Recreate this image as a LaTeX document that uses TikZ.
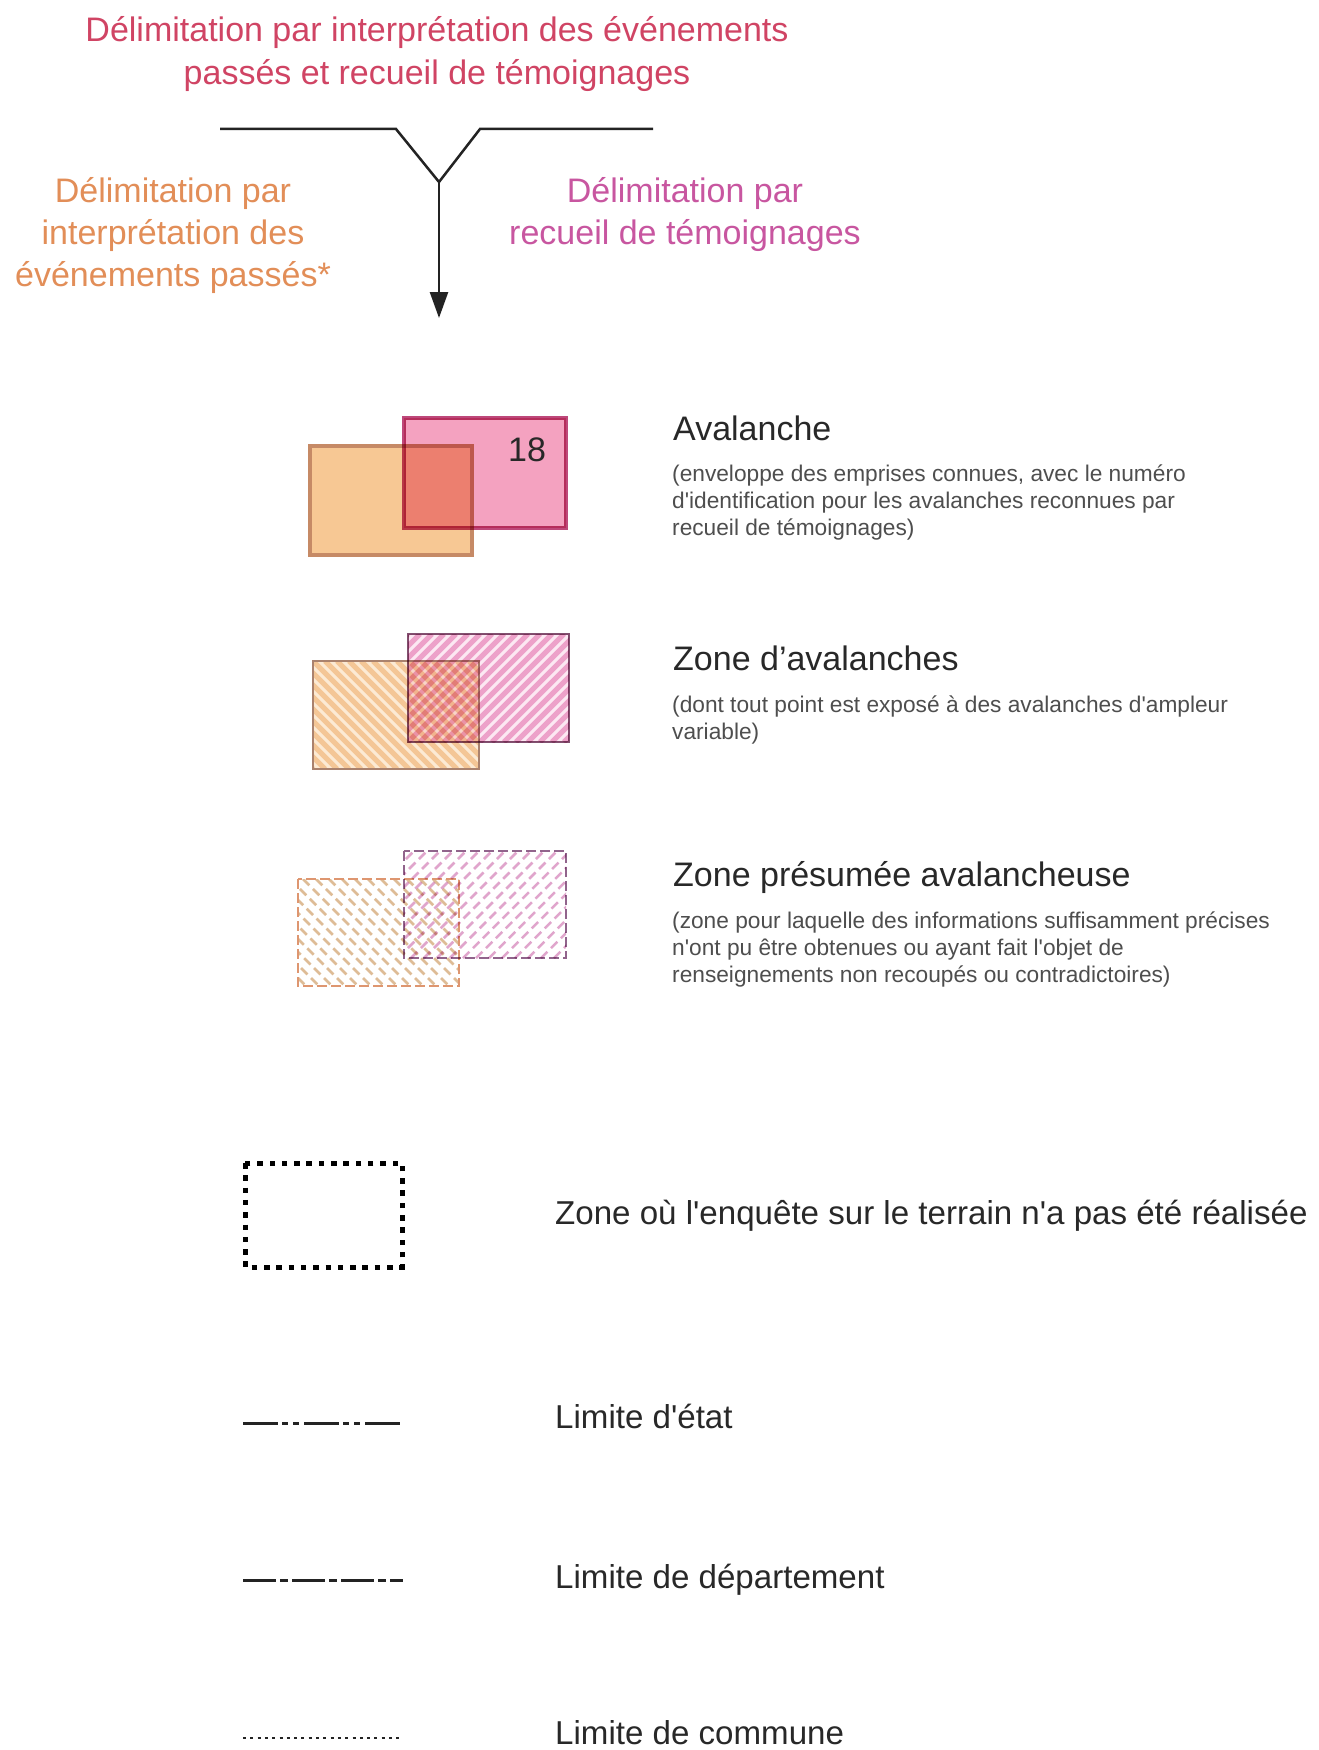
\documentclass[tikz,border=0pt]{standalone}
\usepackage{fontspec}
\setmainfont{Liberation Sans}
\usetikzlibrary{arrows.meta}

\definecolor{titlerose}{RGB}{208,68,100}
\definecolor{passorange}{RGB}{226,142,88}
\definecolor{temmagenta}{RGB}{200,86,160}
\definecolor{headgray}{RGB}{40,40,40}
\definecolor{descgray}{RGB}{78,78,78}
\definecolor{linegray}{RGB}{35,35,35}
% avalanche
\definecolor{avorfill}{RGB}{247,200,148}
\definecolor{avorline}{RGB}{198,138,102}
\definecolor{avpkfill}{RGB}{244,162,192}
\definecolor{avpkline}{RGB}{190,72,122}
% zone d'avalanches
\definecolor{zoorpale}{RGB}{252,234,212}
\definecolor{zoorband}{RGB}{244,198,150}
\definecolor{zoorline}{RGB}{170,130,110}
\definecolor{zopkpale}{RGB}{252,232,242}
\definecolor{zopkband}{RGB}{240,178,212}
\definecolor{zopkline}{RGB}{130,80,112}
% zone presumee
\definecolor{zporband}{RGB}{222,188,150}
\definecolor{zporline}{RGB}{222,150,112}
\definecolor{zppkband}{RGB}{224,165,204}
\definecolor{zppkline}{RGB}{145,100,140}

\newcommand{\ap}{\textquotesingle}

\begin{document}
\begin{tikzpicture}[x=1pt, y=-1pt, >=Stealth,
  bigtext/.style={font=\fontsize{34}{42}\selectfont, inner sep=0pt},
  headtext/.style={bigtext, text=headgray, anchor=base west},
  lowtext/.style={headtext, font=\fontsize{33.1}{40}\selectfont},
  desctext/.style={font=\fontsize{22.7}{27}\selectfont, inner sep=0pt, text=descgray, align=left, anchor=north west},
  connector/.style={draw=linegray, line width=2.5pt}]

  \useasboundingbox[fill=white] (0,0) rectangle (1319,1750);

  % Titles
  \node[bigtext, text=titlerose, align=center, font=\fontsize{34}{43}\selectfont] (title) at (437,54)
    {Délimitation par interprétation des événements\\passés et recueil de témoignages};
  \node[bigtext, text=passorange, align=center] (passes) at (173,236)
    {Délimitation par\\interprétation des\\événements passés*};
  \node[bigtext, text=temmagenta, align=center] (temoins) at (685,215)
    {Délimitation par\\recueil de témoignages};

  % Y connector
  \coordinate (yl) at (220,129);
  \coordinate (yml) at (396,129);
  \coordinate (yv) at (439,182);
  \coordinate (ymr) at (480,129);
  \coordinate (yr) at (653,129);
  \coordinate (yend) at (439,318);
  \draw[connector, line join=miter] (yl) -- (yml) -- (yv) -- (ymr) -- (yr);
  \draw[connector, -{Triangle[length=26pt, width=18pt]}] (yv) -- (yend);

  % Avalanche
  \filldraw[fill=avorfill, draw=avorline, line width=3.5pt] (310,446) rectangle (472,555);
  \begin{scope}[blend mode=multiply]
    \filldraw[fill=avpkfill, draw=avpkline, line width=3.5pt] (404,418) rectangle (566,528);
  \end{scope}
  \node[bigtext, text=headgray] (num) at (527,450) {18};
  \node[headtext] (avtitle) at (673,440) {Avalanche};
  \node[desctext] (avdesc) at (672,465)
    {(enveloppe des emprises connues, avec le numéro\\d\ap identification pour les avalanches reconnues par\\recueil de témoignages)};

  % Zone d'avalanches
  \begin{scope}
    \clip (313,661) rectangle (479,769);
    \fill[zoorpale] (313,661) rectangle (479,769);
    \foreach \s in {205,217,...,480}
      \draw[zoorband, line width=5pt] (\s,661) -- ++(108,108);
  \end{scope}
  \draw[zoorline, line width=2pt] (313,661) rectangle (479,769);
  \begin{scope}[blend mode=multiply]
    \begin{scope}
      \clip (408,634) rectangle (569,742);
      \fill[zopkpale] (408,634) rectangle (569,742);
      \foreach \s in {300,312,...,570}
        \draw[zopkband, line width=5pt] (\s,742) -- ++(108,-108);
    \end{scope}
    \draw[zopkline, line width=2pt] (408,634) rectangle (569,742);
  \end{scope}
  \node[headtext] (zotitle) at (673,670) {Zone d’avalanches};
  \node[desctext] (zodesc) at (672,696)
    {(dont tout point est exposé à des avalanches d\ap ampleur\\variable)};

  % Zone presumee avalancheuse
  \begin{scope}
    \clip (298,879) rectangle (459,986);
    \foreach \s in {186,199,...,460}
      \draw[zporband, line width=2.5pt, dash pattern=on 9pt off 5pt] (\s,879) -- ++(107,107);
  \end{scope}
  \draw[zporline, line width=2.5pt, dash pattern=on 10pt off 4pt] (298,879) rectangle (459,986);
  \begin{scope}[blend mode=multiply]
    \begin{scope}
      \clip (404,851) rectangle (566,958);
      \foreach \s in {294,307,...,567}
        \draw[zppkband, line width=2.5pt, dash pattern=on 9pt off 5pt] (\s,958) -- ++(107,-107);
    \end{scope}
    \draw[zppkline, line width=2.5pt, dash pattern=on 10pt off 4pt] (404,851) rectangle (566,958);
  \end{scope}
  \node[headtext] (zptitle) at (673,886) {Zone présumée avalancheuse};
  \node[desctext] (zpdesc) at (672,912)
    {(zone pour laquelle des informations suffisamment précises\\n\ap ont pu être obtenues ou ayant fait l\ap objet de\\renseignements non recoupés ou contradictoires)};

  % Zone non enquetee
  \draw[black, line width=5pt, dash pattern=on 5.5pt off 6.8pt] (245,1163) rectangle (402,1267);
  \node[lowtext] (enqtitle) at (555,1224) {Zone où l\ap enquête sur le terrain n\ap a pas été réalisée};

  % Limites
  \draw[linegray, line width=3pt, dash pattern=on 35pt off 4pt on 6pt off 5pt on 6pt off 5pt] (243,1423) -- (403,1423);
  \node[lowtext] (etat) at (555,1428) {Limite d\ap état};

  \draw[linegray, line width=3pt, dash pattern=on 33pt off 4pt on 8pt off 4pt] (243,1580) -- (403,1580);
  \node[lowtext] (dept) at (555,1588) {Limite de département};

  \draw[linegray, line width=2.5pt, dash pattern=on 3pt off 4.3pt] (243,1738) -- (400,1738);
  \node[lowtext] (commune) at (555,1744) {Limite de commune};

\end{tikzpicture}
\end{document}
